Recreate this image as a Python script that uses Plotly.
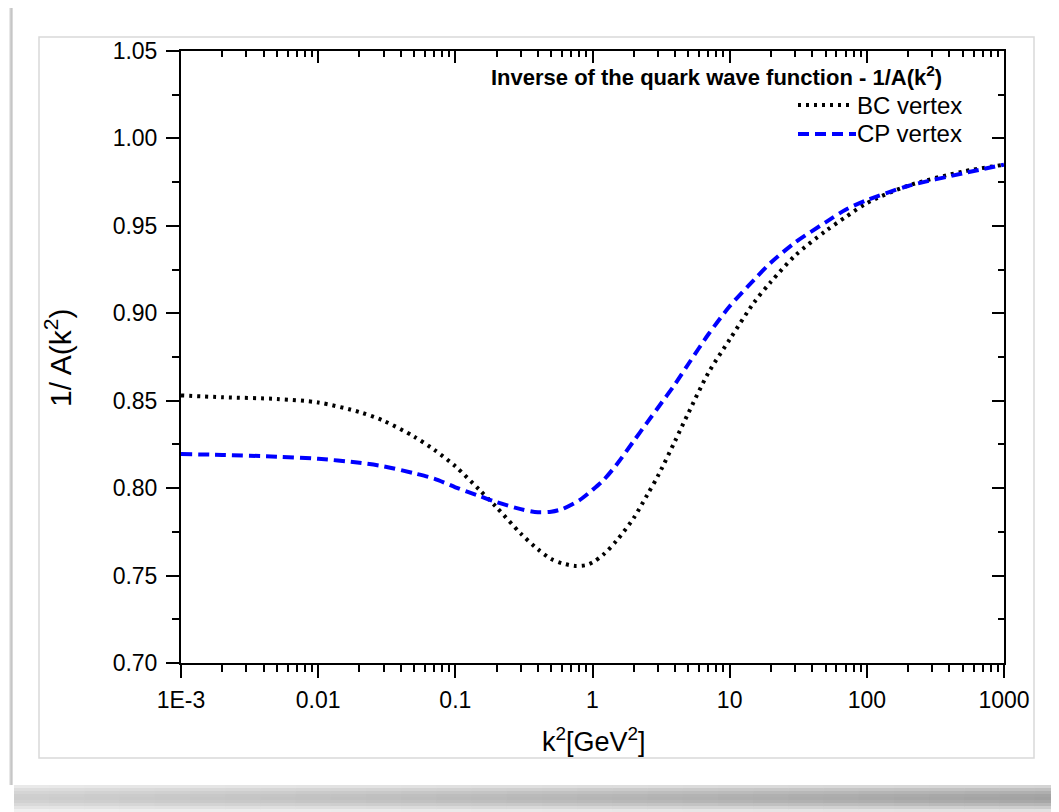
import plotly.graph_objects as go

# ---- data ----
k_bc = [0.001, 0.002, 0.005, 0.01, 0.02, 0.03, 0.05, 0.07, 0.1, 0.15, 0.2, 0.3, 0.4, 0.5,
        0.6, 0.75, 0.9, 1.0, 1.2, 1.5, 2.0, 2.5, 3.0, 4.0, 5.0, 7.0, 10, 15, 20, 30, 50, 70,
        100, 200, 500, 1000]
bc_vals = [0.853, 0.852, 0.851, 0.849, 0.8435, 0.8385, 0.8295, 0.822, 0.8125, 0.799, 0.789,
           0.774, 0.765, 0.7595, 0.757, 0.7555, 0.756, 0.7575, 0.762, 0.770, 0.783, 0.796,
           0.807, 0.827, 0.843, 0.866, 0.885, 0.906, 0.918, 0.933, 0.947, 0.955, 0.963,
           0.973, 0.981, 0.985]

k_cp = [0.001, 0.002, 0.005, 0.01, 0.02, 0.03, 0.05, 0.07, 0.1, 0.15, 0.2, 0.3, 0.4, 0.5,
        0.6, 0.8, 1.0, 1.2, 1.5, 2.0, 2.5, 3.0, 4.0, 5.0, 7.0, 10, 15, 20, 30, 50, 70, 100,
        200, 500, 1000]
cp_vals = [0.8195, 0.819, 0.818, 0.8168, 0.8145, 0.8125, 0.8085, 0.8055, 0.8005, 0.7955,
           0.792, 0.788, 0.7862, 0.7865, 0.788, 0.793, 0.799, 0.8045, 0.8135, 0.827, 0.8375,
           0.846, 0.8595, 0.871, 0.888, 0.904, 0.919, 0.929, 0.9405, 0.952, 0.9592, 0.9647,
           0.9728, 0.980, 0.985]

x_tickvals = [1e-3, 1e-2, 1e-1, 1, 10, 100, 1000]
x_ticktext = ["1E-3", "0.01", "0.1", "1", "10", "100", "1000"]
series_names = ["BC vertex", "CP vertex"]
legend_title = "Inverse of the quark wave function - 1/A(k<sup>2</sup>)"

# ---- layout geometry (reference pixels; page body has an 8px offset) ----
OFF = 8
W, H = 1059 - OFF, 812 - OFF
L, R, T, B = 181, 1004, 51, 663
FONT = "Arial, Liberation Sans, sans-serif"


def px(xp):
    return (xp - L) / (R - L)


def py(yp):
    return (B - yp) / (B - T)


minor_x = [m * 10 ** e for e in range(-3, 3) for m in range(2, 10)]

fig = go.Figure()
fig.add_trace(go.Scatter(x=k_bc, y=bc_vals, mode="lines", name=series_names[0],
                         line=dict(color="black", width=4, dash="3px,5px",
                                   shape="spline", smoothing=0.8),
                         showlegend=False))
fig.add_trace(go.Scatter(x=k_cp, y=cp_vals, mode="lines", name=series_names[1],
                         line=dict(color="#0000ff", width=4, dash="11px,6px",
                                   shape="spline", smoothing=0.8),
                         showlegend=False))
# invisible trace for mirrored (inward-tick) axes
fig.add_trace(go.Scatter(x=[1e-3, 1000], y=[0.70, 1.05], xaxis="x2", yaxis="y2",
                         mode="markers", marker=dict(opacity=0), hoverinfo="skip",
                         showlegend=False))

axis_common = dict(showgrid=False, zeroline=False, showline=True, linecolor="black",
                   linewidth=2, tickcolor="black", tickwidth=2)

fig.update_layout(
    width=W, height=H,
    margin=dict(l=L - OFF, r=W - (R - OFF), t=T - OFF, b=H - (B - OFF), pad=0),
    paper_bgcolor="white", plot_bgcolor="rgba(0,0,0,0)",
    font=dict(family=FONT, color="black"),
    xaxis=dict(type="log", range=[-3, 3], tickmode="array", tickvals=x_tickvals,
               ticktext=x_ticktext, ticks="outside", ticklen=13, ticklabelstandoff=2,
               tickfont=dict(size=23, family=FONT),
               minor=dict(tickmode="array", tickvals=minor_x, ticks="outside", ticklen=7,
                          tickwidth=2, tickcolor="black"),
               **axis_common),
    yaxis=dict(range=[0.70, 1.05], dtick=0.05, tickformat=".2f", ticks="outside",
               ticklen=13, ticklabelstandoff=4, tickfont=dict(size=23, family=FONT),
               minor=dict(dtick=0.025, ticks="outside", ticklen=7, tickwidth=2,
                          tickcolor="black"),
               **axis_common),
    xaxis2=dict(type="log", range=[-3, 3], overlaying="x", side="top", tickmode="array",
                tickvals=x_tickvals, showticklabels=False, ticks="inside", ticklen=12,
                minor=dict(tickmode="array", tickvals=minor_x, ticks="inside", ticklen=6,
                           tickwidth=2, tickcolor="black"),
                **axis_common),
    yaxis2=dict(range=[0.70, 1.05], overlaying="y", side="right", dtick=0.05,
                showticklabels=False, ticks="inside", ticklen=12,
                minor=dict(dtick=0.025, ticks="inside", ticklen=6, tickwidth=2,
                           tickcolor="black"),
                **axis_common),
)

shapes = []
# page shadow at bottom (darker towards the right, soft vertically) - opaque greys
row_alpha = [0.16, 0.24, 0.30, 0.34, 0.35, 0.33, 0.27, 0.19, 0.11]
n_seg = 30
x_start, x_end = 14, 1070
y0 = 785
step = 3
for j in range(n_seg):
    xa = x_start + (x_end - x_start) * j / n_seg
    xb = x_start + (x_end - x_start) * (j + 1) / n_seg + 1.0
    scale = 0.55 + 0.5 * j / (n_seg - 1)
    for i, a in enumerate(row_alpha):
        g = int(round(255 * (1 - a * scale)))
        shapes.append(dict(type="rect", xref="paper", yref="paper", layer="below",
                           x0=px(xa), x1=px(xb),
                           y0=py(y0 + i * step), y1=py(y0 + (i + 1) * step + 0.5),
                           fillcolor="rgb(%d,%d,%d)" % (g, g, g),
                           line=dict(width=0)))
# page left edge shading
for i, c in enumerate(["#e8e8e8", "#d0d0d0", "#c6c6c6", "#dadada"]):
    shapes.append(dict(type="rect", xref="paper", yref="paper", layer="below",
                       x0=px(9 + i), x1=px(10 + i), y0=py(785), y1=py(7),
                       fillcolor=c, line=dict(width=0)))
# inner frame
shapes.append(dict(type="rect", xref="paper", yref="paper", layer="below",
                   x0=px(39), x1=px(1034), y0=py(758), y1=py(37),
                   fillcolor="white", line=dict(color="#d9d9d9", width=1.5)))
# legend samples
shapes.append(dict(type="line", xref="paper", yref="paper",
                   x0=px(798), x1=px(849), y0=py(105), y1=py(105),
                   line=dict(color="black", width=4, dash="3px,5px")))
shapes.append(dict(type="line", xref="paper", yref="paper",
                   x0=px(798), x1=px(856), y0=py(134), y1=py(134),
                   line=dict(color="#0000ff", width=4, dash="11px,6px")))

annotations = [
    dict(text="<b>" + legend_title + "</b>", xref="paper", yref="paper",
         x=px(944), y=py(76), xanchor="right", yanchor="middle", showarrow=False,
         font=dict(size=22, family=FONT)),
    dict(text=series_names[0], xref="paper", yref="paper", x=px(855), y=py(105),
         xanchor="left", yanchor="middle", showarrow=False, font=dict(size=24, family=FONT)),
    dict(text=series_names[1], xref="paper", yref="paper", x=px(855), y=py(134),
         xanchor="left", yanchor="middle", showarrow=False, font=dict(size=24, family=FONT)),
    dict(text="1/ A(k<sup>2</sup>)", xref="paper", yref="paper", x=px(58), y=py(358),
         xanchor="center", yanchor="middle", textangle=-90, showarrow=False,
         font=dict(size=30, family=FONT)),
    dict(text="k<sup>2</sup>[GeV<sup>2</sup>]", xref="paper", yref="paper", x=px(594),
         y=py(740), xanchor="center", yanchor="middle", showarrow=False,
         font=dict(size=27, family=FONT)),
]

fig.update_layout(shapes=shapes, annotations=annotations)
fig.write_html("out.html")
